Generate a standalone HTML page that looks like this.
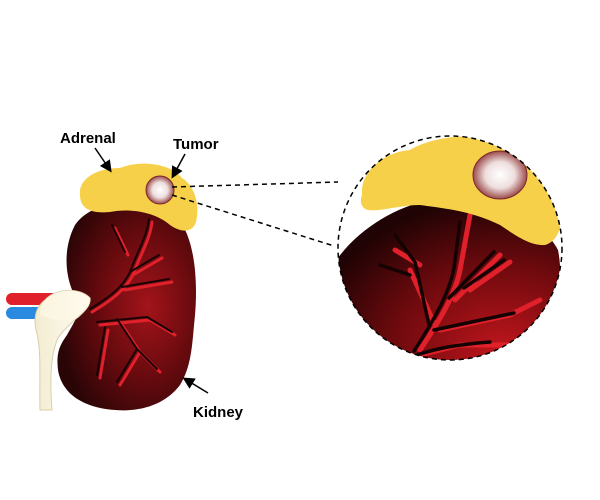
<!DOCTYPE html>
<html><head><meta charset="utf-8"><style>
html,body{margin:0;padding:0;background:#fff;width:600px;height:500px;overflow:hidden}
svg{display:block}
text{font-family:"Liberation Sans",sans-serif;font-weight:bold;font-size:15px;fill:#000}
</style></head><body>
<svg width="600" height="500" viewBox="0 0 600 500" xmlns="http://www.w3.org/2000/svg">
<defs>
<radialGradient id="kid" cx="0.65" cy="0.5" r="0.65">
<stop offset="0" stop-color="#a3141a"/><stop offset="0.55" stop-color="#650a0e"/><stop offset="1" stop-color="#2a0506"/>
</radialGradient>
<radialGradient id="kid2" cx="0.75" cy="0.85" r="0.85">
<stop offset="0" stop-color="#c0161c"/><stop offset="0.55" stop-color="#700a0e"/><stop offset="1" stop-color="#200304"/>
</radialGradient>
<radialGradient id="tum" cx="0.5" cy="0.5" r="0.55">
<stop offset="0" stop-color="#fff"/><stop offset="0.5" stop-color="#eedede"/><stop offset="1" stop-color="#8a2a2a"/>
</radialGradient>
<linearGradient id="ur" x1="0" x2="1"><stop offset="0" stop-color="#f2ecd0"/><stop offset="1" stop-color="#fffdf3"/></linearGradient>
<clipPath id="cc"><circle cx="450" cy="248" r="112"/></clipPath>
<marker id="ah" markerWidth="8" markerHeight="8" refX="6" refY="4" orient="auto"><path d="M0,0 L8,4 L0,8 z" fill="#000"/></marker>
</defs>
<rect x="6" y="293" width="60" height="12" rx="6" fill="#e0202a"/>
<rect x="6" y="307" width="60" height="12" rx="6" fill="#2a8ae0"/>
<path d="M75,225 C92,200 140,195 175,215 C195,235 198,280 195,315 C192,345 192,365 180,385 C165,405 140,412 115,410 C85,408 62,395 58,370 C56,352 60,345 67,335 C74,322 82,312 77,300 C65,280 62,250 75,225Z" fill="url(#kid)"/>
<g stroke="#e0202a" stroke-width="3" fill="none" stroke-linecap="round">
<path d="M92,312 C112,300 125,290 133,275 C140,255 150,240 152,222 M133,275 L162,258 M125,290 L172,282 M100,325 L150,320 L175,335 M120,322 L140,352 L160,372 M140,352 L120,385 M108,330 L100,378 M128,255 L115,228"/>
</g>
<g stroke="#1a0304" stroke-width="2" fill="none" stroke-linecap="round">
<path d="M90,309 C110,297 123,287 130,272 C137,252 147,237 149,219 M130,272 L159,255 M122,287 L169,279 M97,322 L147,317 L172,332 M117,319 L137,349 L157,369 M137,349 L117,382 M105,327 L97,375 M125,252 L112,225"/>
</g>
<path d="M45,300 C55,288 80,287 90,298 C92,310 70,320 58,338 C50,355 50,385 52,410 L40,410 C39,380 42,350 36,330 C33,315 37,306 45,300Z" fill="url(#ur)" stroke="#d8cfa8"/>
<path d="M45,300 C55,288 80,287 90,298 C92,305 85,312 78,318 C65,322 50,320 40,315 C40,308 42,303 45,300Z" fill="#fff8e8" opacity="0.6"/>
<path d="M80,195 C78,180 95,168 120,168 C140,160 170,163 182,178 C195,186 200,205 196,222 C192,234 180,232 170,225 C155,212 130,208 110,212 C90,214 80,208 80,195Z" fill="#f7d04a"/>
<circle cx="160" cy="190" r="14" fill="url(#tum)" stroke="#7a2a2a" stroke-width="1"/>
<line x1="172" y1="187" x2="338" y2="182" stroke="#000" stroke-dasharray="5,4" stroke-width="1.5"/>
<line x1="172" y1="195" x2="334" y2="246" stroke="#000" stroke-dasharray="5,4" stroke-width="1.5"/>
<g clip-path="url(#cc)">
<path d="M330,270 C350,235 390,208 430,200 C480,192 540,215 558,250 C562,270 560,290 558,310 L560,380 L330,380Z" fill="url(#kid2)"/>
<g stroke="#e0202a" stroke-width="5" fill="none" stroke-linecap="round">
<path d="M420,350 C440,320 455,295 460,270 M460,270 L470,215 M455,300 L500,255 M470,290 L510,262 M435,325 L410,270 M440,330 L510,315 L540,300 M400,360 L460,345 L540,345 M395,250 L420,265"/>
</g>
<g stroke="#150203" stroke-width="3.5" fill="none" stroke-linecap="round">
<path d="M414,351 C434,320 449,294 454,268 M454,268 L460,222 M449,298 L494,252 M464,288 L504,260 M429,325 L415,262 M415,262 L395,235 M434,330 L514,313 M408,358 C430,350 450,345 490,342 M380,265 L410,275"/>
</g>
<path d="M362,195 C360,170 385,152 410,150 C435,135 480,132 515,142 C545,150 555,175 558,200 C565,215 562,240 545,245 C530,246 515,235 500,225 C470,210 440,208 420,205 C400,205 380,212 368,210 C360,208 360,200 362,195Z" fill="#f7d04a"/>
<ellipse cx="500" cy="175" rx="27" ry="24" fill="url(#tum)" stroke="#7a2a2a"/>
</g>
<circle cx="450" cy="248" r="112" fill="none" stroke="#000" stroke-width="1.5" stroke-dasharray="5,4"/>
<text x="60" y="143">Adrenal</text>
<line x1="95" y1="148" x2="110" y2="170" stroke="#000" stroke-width="1.5" marker-end="url(#ah)"/>
<text x="173" y="149">Tumor</text>
<line x1="185" y1="154" x2="173" y2="176" stroke="#000" stroke-width="1.5" marker-end="url(#ah)"/>
<text x="193" y="417">Kidney</text>
<line x1="208" y1="393" x2="185" y2="379" stroke="#000" stroke-width="1.5" marker-end="url(#ah)"/>
</svg>
</body></html>
